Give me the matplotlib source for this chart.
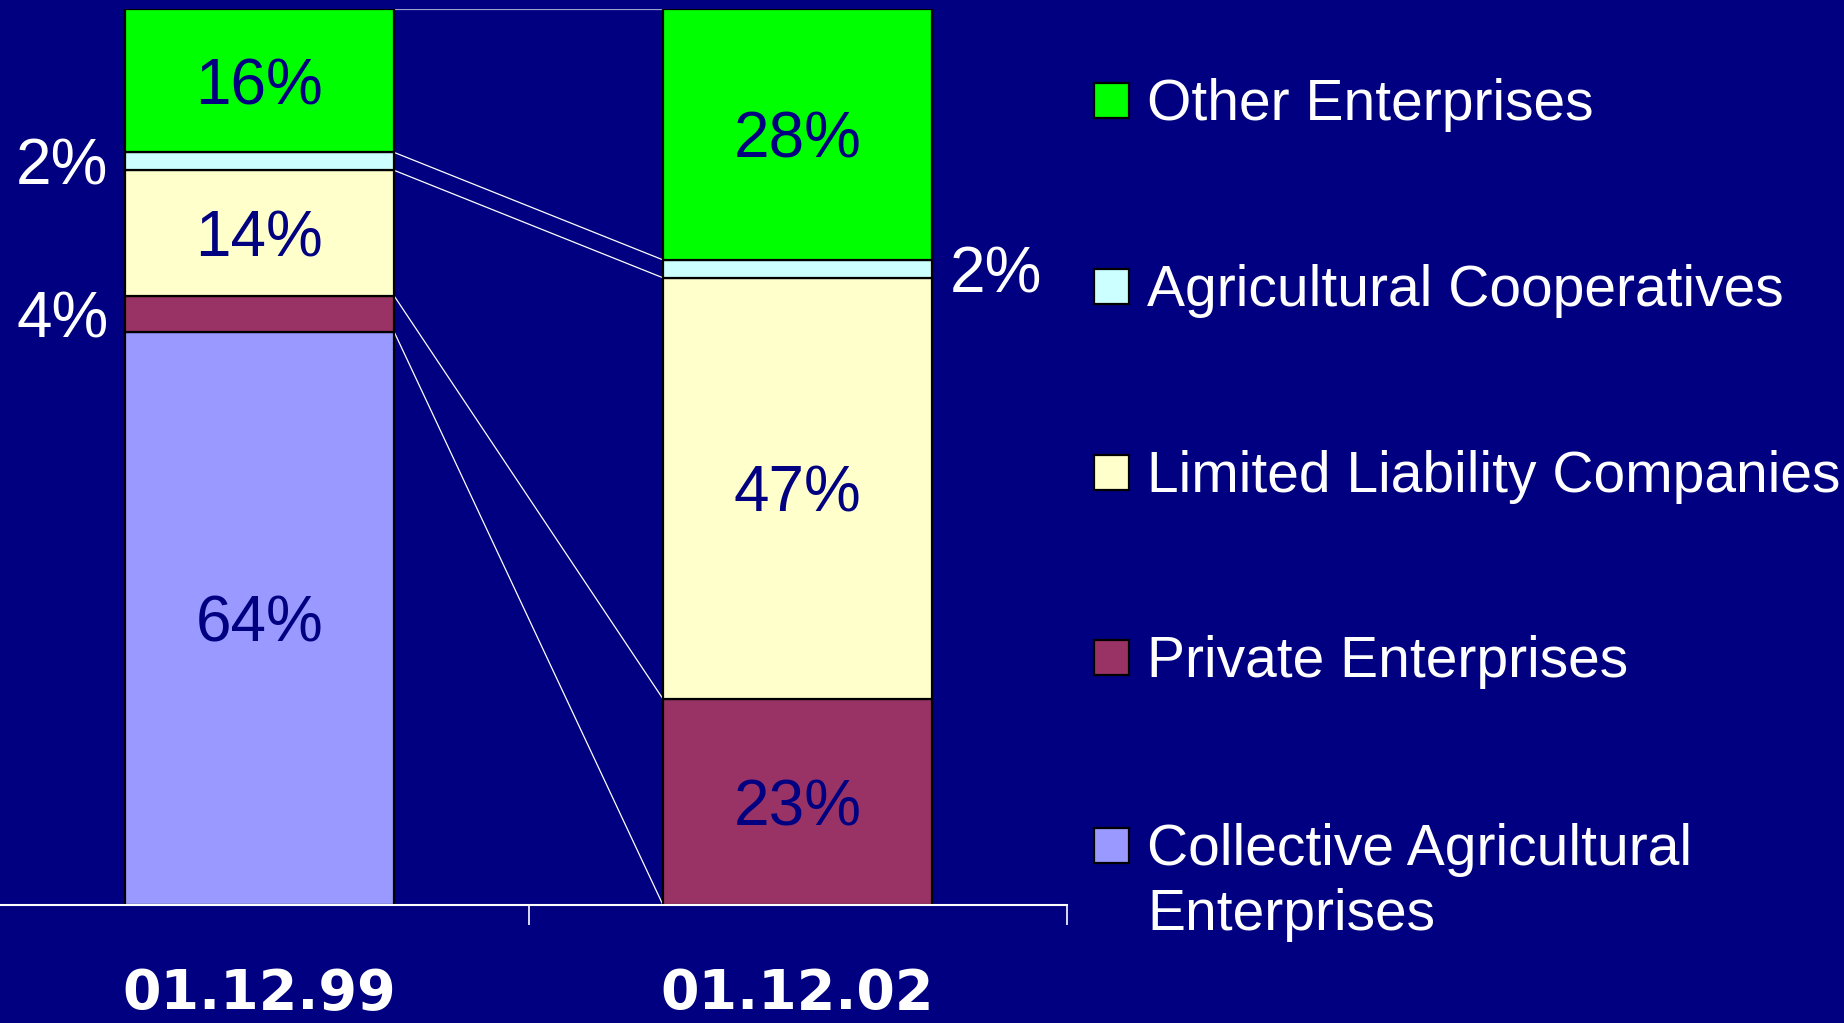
#!/usr/bin/env python
# 
# stacked share chart, two dates

import numpy as np
import matplotlib as mpl
mpl.use('Agg')
import matplotlib.pyplot as plt
from matplotlib.patches import Rectangle


# data (bottom -> top stacking order)
dates = ['01.12.99', '01.12.02']
categories = ['Collective Agricultural\nEnterprises', 'Private Enterprises', 'Limited Liability Companies', 'Agricultural Cooperatives', 'Other Enterprises']
share_1999 = [64, 4, 14, 2, 16]
share_2002 = [0, 23, 47, 2, 28]
colors = ['#9999FF', '#993366', '#FFFFCC', '#CCFFFF', '#00FF00']

# which labels go outside the bar: (bar index, category index, side)
outside_labels = [(0, 3, 'left'), (0, 1, 'left'), (1, 3, 'right')]

bg_color = '#000080'
text_font = ['Liberation Sans', 'DejaVu Sans']

values = np.array([share_1999, share_2002], dtype=float)
ncat = len(categories)
xpos = np.arange(len(dates))
bar_width = 0.5

# 
# figure
fig = plt.figure(figsize=(18.44, 10.23), dpi=100, facecolor=bg_color)
ax = fig.add_axes([-9.5/1844., 1.0-905./1023., 1076./1844., 896./1023.])
ax.set_facecolor(bg_color)
ax.set_xlim(-0.5, 1.5)
ax.set_ylim(0, 100)

# 
# stacked bars
bottoms = np.zeros(len(dates))
for k in range(ncat):
    ax.bar(xpos, values[:,k], width=bar_width, bottom=bottoms, color=colors[k], edgecolor='black', linewidth=1.6, zorder=3)
    # labels
    for i in range(len(dates)):
        v = values[i,k]
        if v <= 0:
            continue
        is_outside = False
        for (bi, ci, side) in outside_labels:
            if bi == i and ci == k:
                is_outside = True
                if side == 'left':
                    ax.annotate('%d%%'%(v), xy=(xpos[i]-bar_width/2., bottoms[i]+v/2.), xytext=(-12, 0), textcoords='offset points',
                                ha='right', va='center_baseline', fontsize=46, color='white', family=text_font, zorder=5)
                else:
                    ax.annotate('%d%%'%(v), xy=(xpos[i]+bar_width/2., bottoms[i]+v/2.), xytext=(13, 0), textcoords='offset points',
                                ha='left', va='center_baseline', fontsize=46, color='white', family=text_font, zorder=5)
        if not is_outside:
            ax.text(xpos[i], bottoms[i]+v/2., '%d%%'%(v), ha='center', va='center_baseline', fontsize=46, color=bg_color, family=text_font, zorder=5)
    bottoms = bottoms + values[:,k]

# 
# series lines between the bars
cum = np.cumsum(values, axis=1)
for k in range(ncat):
    lc = '#ffffff'
    lw = 0.9
    if k == ncat-1:
        lc = '#a0a0d0'
        lw = 1.6
    ax.plot([xpos[0]+bar_width/2., xpos[1]-bar_width/2.], [cum[0,k], cum[1,k]], color=lc, linewidth=lw, zorder=2, solid_capstyle='butt')

# 
# axis style
for sp in ['left', 'right', 'top']:
    ax.spines[sp].set_visible(False)
ax.spines['bottom'].set_color('white')
ax.spines['bottom'].set_linewidth(1.5)
ax.spines['bottom'].set_zorder(4)
ax.set_yticks([])
ax.set_xticks(xpos)
ax.set_xticklabels(dates, fontsize=40, fontweight='bold', color='white', family='DejaVu Sans')
ax.tick_params(axis='x', which='major', length=0, pad=45)
ax.set_xticks([-0.5, 0.5, 1.5], minor=True)
ax.tick_params(axis='x', which='minor', length=14.5, width=1.2, color='white', direction='out')

# 
# legend (top entry first)
leg_y = [100, 286, 472, 657, 845]
for j, k in enumerate(range(ncat-1, -1, -1)):
    yc = leg_y[j]
    fig.patches.append(Rectangle((1094./1844., 1.0-(yc+18.)/1023.), 35./1844., 35./1023., transform=fig.transFigure,
                                 facecolor=colors[k], edgecolor='black', linewidth=1.6))
    lines = categories[k].split('\n')
    for m, line in enumerate(lines):
        fig.text(1147./1844., 1.0-(yc+20.+65.*m)/1023., line, ha='left', va='baseline', fontsize=41, color='white', family=text_font)

fig.savefig('out.png', dpi=100, facecolor=bg_color)
print('Output to "out.png"!')
